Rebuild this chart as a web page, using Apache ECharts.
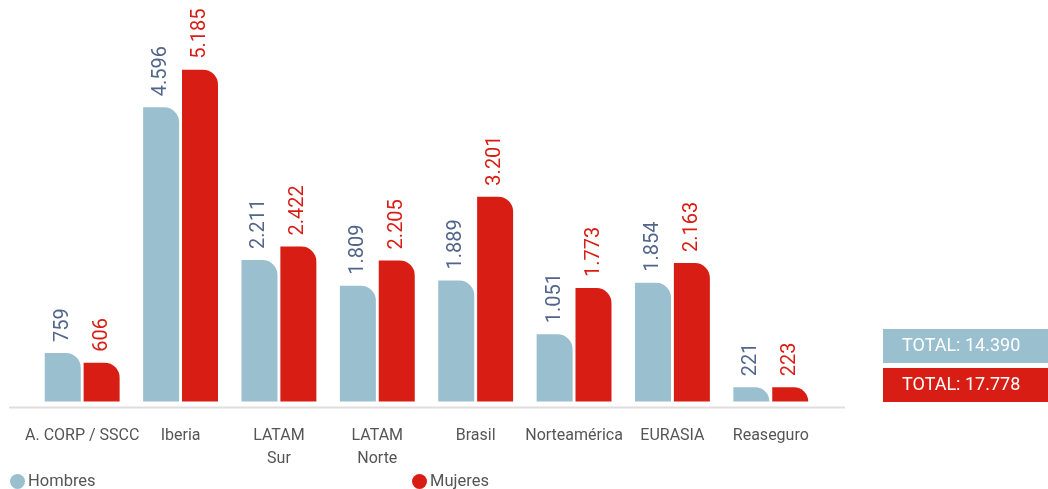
<!DOCTYPE html>
<html><head><meta charset="utf-8">
<script src="https://cdn.jsdelivr.net/npm/echarts@6/dist/echarts.min.js"></script>
<style>html,body{margin:0;padding:0;background:#fff}#c{width:1048px;height:489px}</style>
</head><body><div id="c"></div>
<script>
const categories = ['A. CORP / SSCC', 'Iberia', 'LATAM\nSur', 'LATAM\nNorte', 'Brasil', 'Norteamérica', 'EURASIA', 'Reaseguro'];
const hombres = [759, 4596, 2211, 1809, 1889, 1051, 1854, 221];
const mujeres = [606, 5185, 2422, 2205, 3201, 1773, 2163, 223];
const totalLabels = ['TOTAL: 14.390', 'TOTAL: 17.778'];

const BLUE = '#9abfcf', RED = '#d81e14';
const FONT = 'Roboto, sans-serif';
const fmt = v => v >= 1000 ? (Math.floor(v / 1000) + '.' + String(v % 1000).padStart(3, '0')) : String(v);

const chart = echarts.init(document.getElementById('c'), null, {renderer: 'canvas'});
chart.setOption({
  animation: false,
  grid: {left: 33, right: 228, top: 17.5, bottom: 87.5},
  legend: [
    {data: ['Hombres'], left: 10, top: 473, icon: 'circle', itemWidth: 15, itemHeight: 15, itemGap: 4, padding: 0,
     textStyle: {fontFamily: FONT, fontSize: 16.5, color: '#555', padding: [0, 0, 0, -2]}},
    {data: ['Mujeres'], left: 412, top: 473, icon: 'circle', itemWidth: 15, itemHeight: 15, padding: 0,
     textStyle: {fontFamily: FONT, fontSize: 16.5, color: '#555', padding: [0, 0, 0, -2]}}
  ],
  xAxis: {
    type: 'category', data: categories,
    axisLine: {show: false}, axisTick: {show: false},
    axisLabel: {interval: 0, margin: 23, fontFamily: FONT, fontSize: 16, color: '#555', lineHeight: 23}
  },
  yAxis: {type: 'value', min: 0, max: 6000, show: false, splitLine: {show: false}},
  graphic: [
    {type: 'line', shape: {x1: 9, y1: 407.5, x2: 845, y2: 407.5}, style: {stroke: '#e2dddd', lineWidth: 2}},
    {type: 'rect', shape: {x: 883, y: 329, width: 170, height: 34, r: [0, 0, 5, 0]}, style: {fill: BLUE}},
    {type: 'text', x: 902, y: 346, style: {text: totalLabels[0], fill: '#fff', font: '18px ' + FONT, verticalAlign: 'middle'}},
    {type: 'rect', shape: {x: 883, y: 368, width: 170, height: 34, r: [0, 0, 5, 0]}, style: {fill: RED}},
    {type: 'text', x: 902, y: 385, style: {text: totalLabels[1], fill: '#fff', font: '18px ' + FONT, verticalAlign: 'middle'}}
  ],
  series: [
    {name: 'Hombres', type: 'bar', data: hombres, barWidth: 36, barGap: '8%',
     itemStyle: {color: BLUE, borderRadius: [0, 15, 0, 0]},
     label: {show: true, position: 'top', rotate: 90, align: 'left', verticalAlign: 'middle', distance: 11,
             fontFamily: FONT, fontSize: 20, color: '#52658a', formatter: p => fmt(p.value)}},
    {name: 'Mujeres', type: 'bar', data: mujeres, barWidth: 36,
     itemStyle: {color: RED, borderRadius: [0, 15, 0, 0]},
     label: {show: true, position: 'top', rotate: 90, align: 'left', verticalAlign: 'middle', distance: 11,
             fontFamily: FONT, fontSize: 20, color: RED, formatter: p => fmt(p.value)}}
  ]
});
</script></body></html>
